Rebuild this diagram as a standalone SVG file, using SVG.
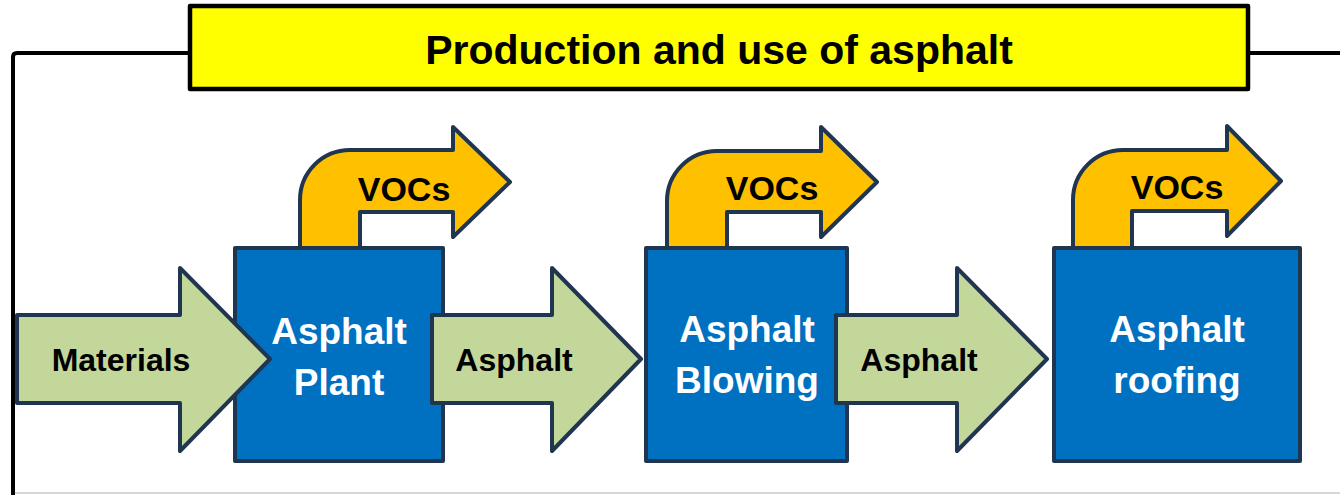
<svg xmlns="http://www.w3.org/2000/svg" width="1340" height="495" viewBox="0 0 1340 495">
<style>
.frame{fill:none;stroke:#000;stroke-width:4;stroke-linejoin:round}
.box{fill:#0070C0;stroke:#1F3550;stroke-width:4;stroke-linejoin:round}
.green{fill:#C4D79B;stroke:#1F3550;stroke-width:4;stroke-linejoin:round}
.voc{fill:#FFC000;stroke:#1F3550;stroke-width:4;stroke-linejoin:round}
.t{font-family:"Liberation Sans",Arial,sans-serif;font-weight:bold;text-anchor:middle}
.wt{fill:#fff;font-size:37px}
.bt{fill:#000;font-size:32px}
.vt{fill:#000;font-size:34px}
</style>
<g id="frame">
<path class="frame" d="M13,495 V57 Q13,53 17,53 H190"/>
<path class="frame" d="M1248,53 H1340"/>
<line x1="15" y1="493" x2="1340" y2="493" stroke="#C8C8C8" stroke-width="1.5"/>
</g>
<g id="title">
<rect x="190" y="6" width="1058" height="83" fill="#FFFF00" stroke="#000" stroke-width="4.5" stroke-linejoin="round"/>
<text class="t" x="719" y="64" font-size="41" fill="#000">Production and use of asphalt</text>
</g>
<g id="box1">
<rect class="box" x="235" y="248" width="208" height="213"/>
<text class="t wt" x="339" y="344">Asphalt</text>
<text class="t wt" x="339" y="395">Plant</text>
</g>
<g id="box2">
<rect class="box" x="646" y="248" width="201" height="213"/>
<text class="t wt" x="747" y="342">Asphalt</text>
<text class="t wt" x="747" y="393">Blowing</text>
</g>
<g id="box3">
<rect class="box" x="1054" y="248" width="246" height="213"/>
<text class="t wt" x="1177" y="342">Asphalt</text>
<text class="t wt" x="1177" y="393">roofing</text>
</g>
<g id="connectors">
<g id="voc1">
<path class="voc" d="M300,248 V200 A50,50 0 0 1 350,150 H453 V127 L510,182 L453,237 V212 H360 V248 Z"/>
<text class="t vt" x="404" y="201">VOCs</text>
</g>
<g id="voc2">
<path class="voc" d="M667,248 V201 A50,50 0 0 1 717,151 H821 V127 L877,182 L821,237 V212 H727 V248 Z"/>
<text class="t vt" x="772" y="200">VOCs</text>
</g>
<g id="voc3">
<path class="voc" d="M1073,248 V200 A50,50 0 0 1 1123,150 H1227 V126 L1281,181 L1227,236 V211 H1132 V248 Z"/>
<text class="t vt" x="1177" y="199">VOCs</text>
</g>
<g id="flow1">
<path class="green" d="M17,315 H180 V268 L270,359 L180,451 V403 H17 Z"/>
<text class="t bt" x="121" y="371">Materials</text>
</g>
<g id="flow2">
<path class="green" d="M432,315 H552 V268 L641,359 L552,451 V403 H432 Z"/>
<text class="t bt" x="514" y="371">Asphalt</text>
</g>
<g id="flow3">
<path class="green" d="M836,315 H957 V268 L1047,359 L957,451 V403 H836 Z"/>
<text class="t bt" x="919" y="371">Asphalt</text>
</g>
</g>
</svg>
